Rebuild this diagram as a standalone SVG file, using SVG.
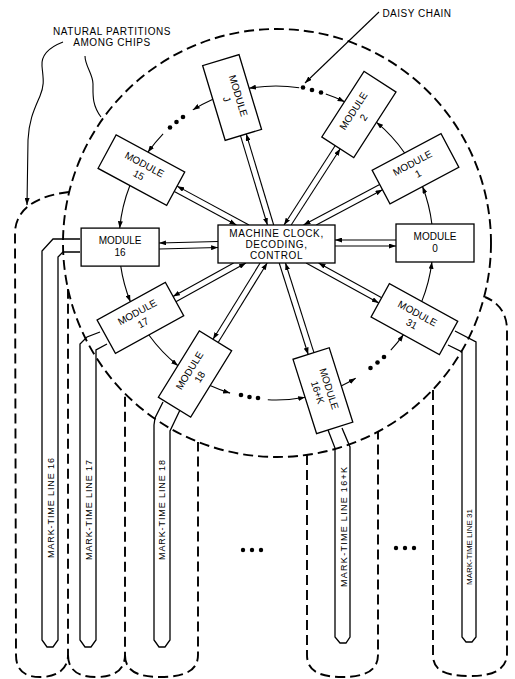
<svg xmlns="http://www.w3.org/2000/svg" width="515" height="679" viewBox="0 0 515 679">
<defs>
<marker id="ah" viewBox="0 0 7 5" refX="7" refY="2.5" markerWidth="7" markerHeight="5" markerUnits="userSpaceOnUse" orient="auto"><path d="M0,0 L7,2.5 L0,5 z" fill="#000"/></marker>
<style>
.dash{fill:none;stroke:#000;stroke-width:1.9;stroke-dasharray:10 5}
.ln{fill:none;stroke:#000;stroke-width:1.1}
.mt{fill:none;stroke:#000;stroke-width:1.3}
.box{fill:#fff;stroke:#000;stroke-width:1.3}
.t{font-family:"Liberation Sans",Arial,sans-serif;font-size:10px;fill:#000;text-anchor:middle}
.mtt{font-family:"Liberation Sans",Arial,sans-serif;font-size:9px;fill:#000;text-anchor:middle}
.dot{fill:#000}
</style>
</defs>
<rect width="515" height="679" fill="#fff"/>

<g id="partitions">
<circle class="dash" cx="277" cy="243" r="214"/>
<path class="dash" d="M69,192 C42,195 16,206 15,232 L16,655 C16,670 24,677 40,677 C56,677 68,670 68,655 L68,289"/>
<path class="dash" d="M68,655 C68,670 78,677 96,677 C114,677 125,670 125,655 L125,394"/>
<path class="dash" d="M125,655 C125,670 136,677 160,677 C186,677 198,670 198,655 L198,442"/>
<path class="dash" d="M307,455 L307,655 C307,670 318,677 342,677 C366,677 378,670 378,655 L378,432"/>
<path class="dash" d="M433,390 L433,655 C433,670 444,676 470,676 C496,676 507,668 507,653 L507,330 C507,315 500,303 485,297"/>
</g>

<g id="labels">
<text class="t" x="112" y="35" letter-spacing="0.6">NATURAL PARTITIONS</text>
<text class="t" x="112" y="46" letter-spacing="0.6">AMONG CHIPS</text>
<path class="ln" d="M63,42 C50,47 41,55 42,66 C43,78 45,84 40,96 C34,110 29,120 28,140 L27,205" marker-end="url(#ah)"/>
<path class="ln" d="M85,56 C85,66 93,74 93,84 C93,95 92,105 101,117"/>
<text class="t" x="417" y="17" letter-spacing="0.5">DAISY CHAIN</text>
<line class="ln" x1="379" y1="12" x2="305" y2="83" marker-end="url(#ah)"/>
</g>

<g id="connectors">
<g id="ring">
<path class="ln" d="M421.7,301.6 A157,157 0 0 0 431.9,261.9" marker-end="url(#ah)"/>
<path class="ln" d="M431.9,224.1 A157,157 0 0 0 422.5,186.5" marker-end="url(#ah)"/>
<path class="ln" d="M404.8,153.2 A157,157 0 0 0 376.3,122.2" marker-end="url(#ah)"/>
<path class="ln" d="M325.8,94.1 A157,157 0 0 1 344.6,101.8" marker-end="url(#ah)"/>
<path class="ln" d="M299.2,87.7 A157,157 0 0 0 249.0,88.3" marker-end="url(#ah)"/>
<path class="ln" d="M212.9,99.2 A157,157 0 0 0 192.8,109.9" marker-end="url(#ah)"/>
<path class="ln" d="M163.1,133.9 A157,157 0 0 0 147.9,152.3" marker-end="url(#ah)"/>
<path class="ln" d="M129.9,185.5 A157,157 0 0 0 119.7,228.2" marker-end="url(#ah)"/>
<path class="ln" d="M120.7,265.9 A157,157 0 0 0 130.4,301.8" marker-end="url(#ah)"/>
<path class="ln" d="M148.7,334.8 A157,157 0 0 0 178.0,365.7" marker-end="url(#ah)"/>
<path class="ln" d="M210.1,385.5 A157,157 0 0 0 230.1,393.1" marker-end="url(#ah)"/>
<path class="ln" d="M267.8,399.8 A157,157 0 0 0 305.2,397.3" marker-end="url(#ah)"/>
<path class="ln" d="M341.1,385.9 A157,157 0 0 0 355.7,378.3" marker-end="url(#ah)"/>
<path class="ln" d="M390.8,350.1 A157,157 0 0 0 403.5,334.6" marker-end="url(#ah)"/>
<circle class="dot" cx="303" cy="87.5" r="2.3"/><circle class="dot" cx="312" cy="90" r="2.3"/><circle class="dot" cx="321" cy="92.5" r="2.3"/>
<circle class="dot" cx="183" cy="117" r="2.3"/><circle class="dot" cx="176.5" cy="122" r="2.3"/><circle class="dot" cx="170" cy="127.5" r="2.3"/>
<circle class="dot" cx="241" cy="395" r="2.3"/><circle class="dot" cx="249.5" cy="397" r="2.3"/><circle class="dot" cx="258" cy="398" r="2.3"/>
<circle class="dot" cx="370.5" cy="368" r="2.3"/><circle class="dot" cx="377.5" cy="362.5" r="2.3"/><circle class="dot" cx="384" cy="357" r="2.3"/>
</g>
<g id="spokes">
<g transform="translate(276,243)"><line class="ln" x1="59" y1="3" x2="120" y2="3" marker-end="url(#ah)"/><line class="ln" x1="120" y1="-3" x2="59" y2="-3" marker-end="url(#ah)"/></g>
<g transform="translate(276,243) rotate(-28)"><line class="ln" x1="44" y1="3" x2="119" y2="3" marker-end="url(#ah)"/><line class="ln" x1="119" y1="-3" x2="32.7" y2="-3" marker-end="url(#ah)"/></g>
<g transform="translate(276,243) rotate(-57.2)"><line class="ln" x1="23.4" y1="3" x2="114" y2="3" marker-end="url(#ah)"/><line class="ln" x1="114" y1="-3" x2="19.5" y2="-3" marker-end="url(#ah)"/></g>
<g transform="translate(276,243) rotate(-106.8)"><line class="ln" x1="17.9" y1="3" x2="113" y2="3" marker-end="url(#ah)"/><line class="ln" x1="113" y1="-3" x2="19.7" y2="-3" marker-end="url(#ah)"/></g>
<g transform="translate(276,243) rotate(-151.6)"><line class="ln" x1="32.3" y1="3" x2="114" y2="3" marker-end="url(#ah)"/><line class="ln" x1="114" y1="-3" x2="43.4" y2="-3" marker-end="url(#ah)"/></g>
<g transform="translate(276,243) rotate(178.5)"><line class="ln" x1="58" y1="3" x2="117" y2="3" marker-end="url(#ah)"/><line class="ln" x1="117" y1="-3" x2="58" y2="-3" marker-end="url(#ah)"/></g>
<g transform="translate(276,243) rotate(151.1)"><line class="ln" x1="46.8" y1="3" x2="116" y2="3" marker-end="url(#ah)"/><line class="ln" x1="116" y1="-3" x2="36" y2="-3" marker-end="url(#ah)"/></g>
<g transform="translate(276,243) rotate(121.7)"><line class="ln" x1="25.4" y1="3" x2="115" y2="3" marker-end="url(#ah)"/><line class="ln" x1="115" y1="-3" x2="21.6" y2="-3" marker-end="url(#ah)"/></g>
<g transform="translate(276,243) rotate(72.4)"><line class="ln" x1="20" y1="3" x2="116" y2="3" marker-end="url(#ah)"/><line class="ln" x1="116" y1="-3" x2="21.9" y2="-3" marker-end="url(#ah)"/></g>
<g transform="translate(276,243) rotate(28.8)"><line class="ln" x1="36" y1="3" x2="119" y2="3" marker-end="url(#ah)"/><line class="ln" x1="119" y1="-3" x2="46.9" y2="-3" marker-end="url(#ah)"/></g>
</g>
</g>

<g id="mark-time-lines">
<g id="mt16"><path class="mt" d="M80,239 L53,239 L42,251 L42,640 L47,647 L53,647 L58,640 L58,257 L63,252 L80,252"/><text class="mtt" transform="translate(54,508) rotate(-90)" textLength="100" lengthAdjust="spacing">MARK-TIME LINE 16</text></g>
<g id="mt17"><path class="mt" d="M100,332 L87,337 L80,344 L80,640 L85,647 L91,647 L96,640 L96,350 L107,344"/><text class="mtt" transform="translate(92,510) rotate(-90)" textLength="100" lengthAdjust="spacing">MARK-TIME LINE 17</text></g>
<g id="mt18"><path class="mt" d="M163,402 L155,418 L154,425 L154,640 L159,647 L165,647 L170,640 L170,431 L180,410"/><text class="mtt" transform="translate(165,510) rotate(-90)" textLength="100" lengthAdjust="spacing">MARK-TIME LINE 18</text></g>
<g id="mt16k"><path class="mt" d="M328,430 L335,448 L335,637 L340,643 L346,643 L350,637 L350,447 L342,428"/><text class="mtt" transform="translate(347,527) rotate(-90)" textLength="120" lengthAdjust="spacing">MARK-TIME LINE 16+K</text></g>
<g id="mt31"><path class="mt" d="M455,331 L476,342 L476,637 L472,642 L466,642 L462,637 L462,352 L448,345"/><text class="mtt" transform="translate(472,547) rotate(-90)" style="font-size:8px">MARK-TIME LINE 31</text></g>
<circle class="dot" cx="243" cy="550" r="2.2"/><circle class="dot" cx="252" cy="550" r="2.2"/><circle class="dot" cx="261" cy="550" r="2.2"/>
<circle class="dot" cx="396" cy="548" r="2.2"/><circle class="dot" cx="405" cy="548" r="2.2"/><circle class="dot" cx="414" cy="548" r="2.2"/>
</g>

<g id="control">
<rect class="box" x="218" y="225" width="117" height="38"/>
<text class="t" x="276.5" y="237" letter-spacing="0.6">MACHINE CLOCK,</text>
<text class="t" x="276.5" y="248" letter-spacing="0.6">DECODING,</text>
<text class="t" x="276.5" y="259" letter-spacing="0.6">CONTROL</text>
</g>

<g id="module-0" transform="translate(435,243)"><rect class="box" x="-39" y="-19" width="78" height="38"/><text class="t" y="-3">MODULE</text><text class="t" y="9">0</text></g>
<g id="module-1" transform="translate(415.5,168.8) rotate(-28)"><rect class="box" x="-39" y="-19" width="78" height="38"/><text class="t" y="-3">MODULE</text><text class="t" y="9">1</text></g>
<g id="module-2" transform="translate(358.9,114.5) rotate(-57.2)"><rect class="box" x="-39" y="-19" width="78" height="38"/><text class="t" y="-3">MODULE</text><text class="t" y="9">2</text></g>
<g id="module-j" transform="translate(232.1,97.5) rotate(73.2)"><rect class="box" x="-39" y="-19" width="78" height="38"/><text class="t" y="-3">MODULE</text><text class="t" y="9">J</text></g>
<g id="module-15" transform="translate(141.4,170.2) rotate(28.4)"><rect class="box" x="-39" y="-19" width="78" height="38"/><text class="t" y="-3">MODULE</text><text class="t" y="9">15</text></g>
<g id="module-16" transform="translate(120.1,247.1)"><rect class="box" x="-39" y="-19" width="78" height="38"/><text class="t" y="-3">MODULE</text><text class="t" y="9">16</text></g>
<g id="module-17" transform="translate(140.4,317.9) rotate(-28.9)"><rect class="box" x="-39" y="-19" width="78" height="38"/><text class="t" y="-3">MODULE</text><text class="t" y="9">17</text></g>
<g id="module-18" transform="translate(195,374) rotate(-58.3)"><rect class="box" x="-39" y="-19" width="78" height="38"/><text class="t" y="-3">MODULE</text><text class="t" y="9">18</text></g>
<g id="module-16k" transform="translate(322.9,390.7) rotate(72.4)"><rect class="box" x="-39" y="-19" width="78" height="38"/><text class="t" y="-3">MODULE</text><text class="t" y="9">16+K</text></g>
<g id="module-31" transform="translate(414.4,319.1) rotate(28.8)"><rect class="box" x="-39" y="-19" width="78" height="38"/><text class="t" y="-3">MODULE</text><text class="t" y="9">31</text></g>
</svg>
